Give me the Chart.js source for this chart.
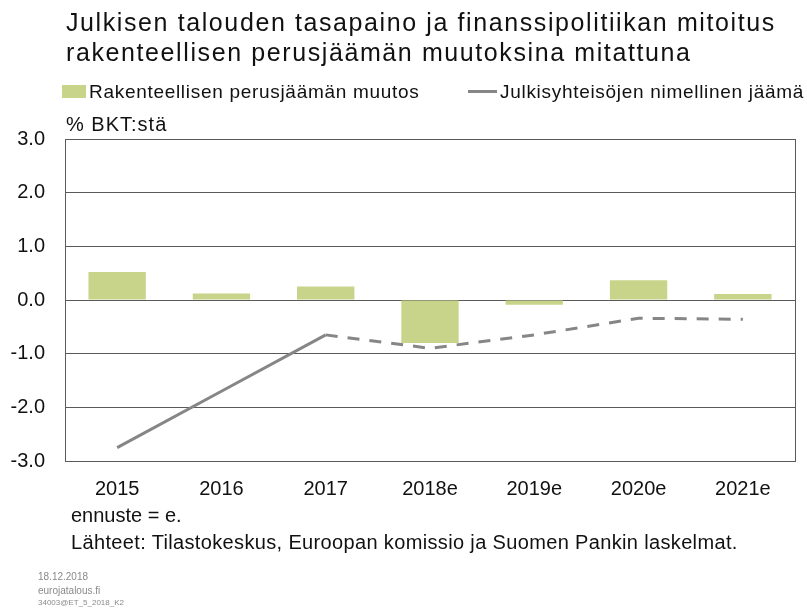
<!DOCTYPE html>
<html>
<head>
<meta charset="utf-8">
<script src="https://cdn.jsdelivr.net/npm/chart.js@4"></script>
<style>
  html, body { margin: 0; padding: 0; background: #fff; }
  body { width: 807px; height: 609px; position: relative; overflow: hidden;
         font-family: 'Liberation Sans', Arial, sans-serif; color: #111; }
  #wrap { position: absolute; left: 0; top: 0; width: 807px; height: 609px; }
  .t { position: absolute; white-space: nowrap; }
  #title { left: 66px; top: 7px; font-size: 25px; line-height: 30px; letter-spacing: 1.6px; }
  .leg { top: 81px; font-size: 19px; line-height: 22px; letter-spacing: 0.7px; }
  .sw { display: inline-block; vertical-align: middle; margin-right: 3px; position: relative; top: -1px; }
  #unit { left: 66px; top: 113px; font-size: 20px; letter-spacing: 1px; }
  #note1 { left: 71px; top: 504px; font-size: 20px; }
  #note2 { left: 71px; top: 531px; font-size: 20px; letter-spacing: 0.35px; }
  .foot { left: 38px; color: #8a8a8a; }
</style>
</head>
<body>
<div id="wrap"><canvas id="chart" width="807" height="609"></canvas></div>
<div class="t" id="title">Julkisen talouden tasapaino ja finanssipolitiikan mitoitus<br>rakenteellisen perusjäämän muutoksina mitattuna</div>
<div class="t leg" style="left:62px"><span class="sw" style="width:24px;height:13px;background:#c8d48a"></span>Rakenteellisen perusjäämän muutos</div>
<div class="t leg" style="left:468px"><span class="sw" style="width:29px;height:3px;background:#868686"></span>Julkisyhteisöjen nimellinen jäämä</div>
<div class="t" id="unit">% BKT:stä</div>
<div class="t" id="note1">ennuste = e.</div>
<div class="t" id="note2">Lähteet: Tilastokeskus, Euroopan komissio ja Suomen Pankin laskelmat.</div>
<div class="t foot" style="top:571px;font-size:10px">18.12.2018</div>
<div class="t foot" style="top:585px;font-size:10px">eurojatalous.fi</div>
<div class="t foot" style="top:598px;font-size:8px">34003@ET_5_2018_K2</div>
<script>
// ── data ──
const YEARS = ['2015', '2016', '2017', '2018e', '2019e', '2020e', '2021e'];
const STRUCTURAL_CHANGE = [0.52, 0.12, 0.25, -0.80, -0.09, 0.37, 0.11];
const NOMINAL_BALANCE = [-2.75, -1.70, -0.65, -0.90, -0.65, -0.34, -0.36];
const Y_TICKS = [-3, -2, -1, 0, 1, 2, 3];

const BAR_GREEN = '#c8d48a';
const LINE_GREY = '#868686';
const GRID = '#5a5a5a';
const FIRST_FORECAST = 2; // dashed from 2017 onwards

// frame around the plot area
const frame = {
  id: 'frame',
  afterDatasetsDraw(chart) {
    const a = chart.chartArea, ctx = chart.ctx;
    ctx.save();
    ctx.strokeStyle = GRID;
    ctx.lineWidth = 1;
    ctx.strokeRect(Math.round(a.left) + 0.5, Math.round(a.top) + 0.5,
      Math.round(a.right - a.left), Math.round(a.bottom - a.top));
    ctx.restore();
  }
};

new Chart(document.getElementById('chart'), {
  data: {
    labels: YEARS,
    datasets: [
      {
        type: 'line',
        label: 'Julkisyhteisöjen nimellinen jäämä',
        data: NOMINAL_BALANCE,
        borderColor: LINE_GREY,
        borderWidth: 3,
        pointRadius: 0,
        tension: 0,
        order: 0,
        segment: {
          borderDash: c => c.p0DataIndex >= FIRST_FORECAST ? [12, 10] : undefined,
        },
      },
      {
        type: 'bar',
        label: 'Rakenteellisen perusjäämän muutos',
        data: STRUCTURAL_CHANGE,
        backgroundColor: BAR_GREEN,
        categoryPercentage: 1,
        barPercentage: 0.55,
        order: 1,
      },
    ],
  },
  options: {
    responsive: false,
    animation: false,
    layout: { padding: { top: 139, right: 12, left: 0, bottom: 0 } },
    plugins: { legend: { display: false }, tooltip: { enabled: false } },
    scales: {
      x: {
        grid: { display: false },
        border: { display: false },
        ticks: { color: '#111', font: { family: 'Liberation Sans', size: 20 }, padding: 8, maxRotation: 0 },
        afterFit: s => { s.height = 148; },
      },
      y: {
        min: -3, max: 3,
        afterBuildTicks: s => { s.ticks = Y_TICKS.map(v => ({ value: v })); },
        grid: { color: GRID, drawTicks: false },
        border: { display: false },
        ticks: { color: '#111', font: { family: 'Liberation Sans', size: 20 }, padding: 20,
                 callback: v => v.toFixed(1) },
        afterFit: s => { s.width = 65; },
      },
    },
  },
  plugins: [frame],
});
</script>
</body>
</html>
